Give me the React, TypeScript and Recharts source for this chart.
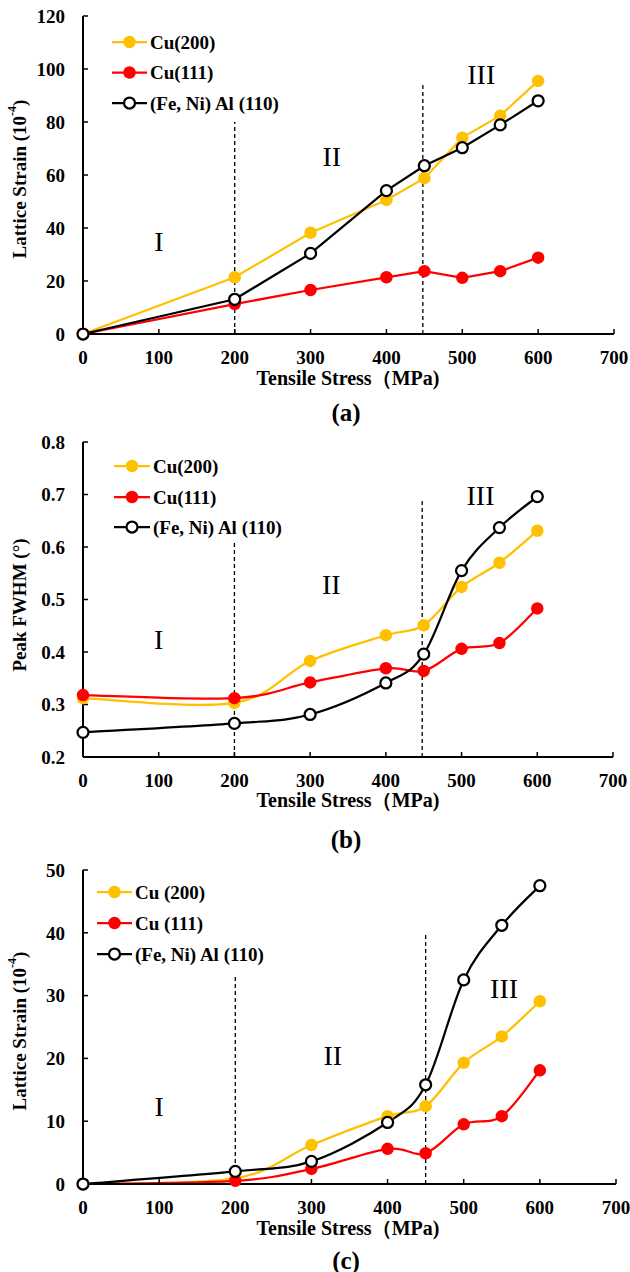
import React from 'react';
import { LineChart, Line, XAxis, YAxis, ReferenceLine, ReferenceDot, Legend } from 'recharts';

const FONT = "'Times New Roman', 'Liberation Serif', serif";

// Applied tensile stress (MPa) at each measurement
const STRESS = [0, 200, 300, 400, 450, 500, 550, 600];
const X_TICKS = [0, 100, 200, 300, 400, 500, 600, 700];

// (a) lattice strain, 10^-4
const A_CU200 = [0, 21.4, 38.2, 50.6, 58.8, 74.1, 82.4, 95.5];
const A_CU111 = [0, 11.3, 16.6, 21.4, 23.7, 21.2, 23.7, 28.8];
const A_FENIAL = [0, 13.1, 30.4, 54.1, 63.5, 70.3, 78.9, 88.0];
const A_Y_TICKS = [0, 20, 40, 60, 80, 100, 120];

// (b) peak FWHM, degrees
const B_CU200 = [0.312, 0.303, 0.383, 0.432, 0.451, 0.524, 0.57, 0.631];
const B_CU111 = [0.318, 0.312, 0.342, 0.369, 0.364, 0.406, 0.417, 0.483];
const B_FENIAL = [0.247, 0.264, 0.281, 0.341, 0.396, 0.555, 0.637, 0.696];
const B_Y_TICKS = [0.2, 0.3, 0.4, 0.5, 0.6, 0.7, 0.8];

// (c) lattice strain, 10^-4
const C_CU200 = [0, 0.9, 6.2, 10.8, 12.4, 19.3, 23.5, 29.1];
const C_CU111 = [0, 0.5, 2.4, 5.6, 4.9, 9.5, 10.8, 18.1];
const C_FENIAL = [0, 2.0, 3.6, 9.8, 15.8, 32.5, 41.2, 47.5];
const C_Y_TICKS = [0, 10, 20, 30, 40, 50];

const NAMES_AB = ['Cu(200)', 'Cu(111)', '(Fe, Ni) Al (110)'];
const NAMES_C = ['Cu (200)', 'Cu (111)', '(Fe, Ni) Al (110)'];

// Stage boundaries (dashed) and stage numerals
const A_DIVIDERS = [{ x: 200, top: 80 }, { x: 448, top: 95 }];
const B_DIVIDERS = [{ x: 200, top: 0.61 }, { x: 448, top: 0.69 }];
const C_DIVIDERS = [{ x: 200, top: 33 }, { x: 450, top: 40 }];
const A_STAGES = [{ t: 'I', x: 100, y: 35 }, { t: 'II', x: 328, y: 67 }, { t: 'III', x: 525, y: 98 }];
const B_STAGES = [{ t: 'I', x: 100, y: 0.423 }, { t: 'II', x: 328, y: 0.529 }, { t: 'III', x: 525, y: 0.699 }];
const C_STAGES = [{ t: 'I', x: 100, y: 12.3 }, { t: 'II', x: 328, y: 20.5 }, { t: 'III', x: 553, y: 31.2 }];

const SERIES = [
  { key: 'cu200', color: '#FFC000', fill: '#FFC000', open: false },
  { key: 'cu111', color: '#FF0000', fill: '#FF0000', open: false },
  { key: 'fenial', color: '#000000', fill: '#FFFFFF', open: true },
];

const buildRows = (a: number[], b: number[], c: number[]) =>
  STRESS.map((s, i) => ({ stress: s, cu200: a[i], cu111: b[i], fenial: c[i] }));

// Spreadsheet-style smoothed curve (Catmull-Rom through the points, as cubic Beziers)
const smoothCurve = (context: any) => {
  let pts: [number, number][] = [];
  return {
    areaStart() {},
    areaEnd() {},
    lineStart() {
      pts = [];
    },
    point(x: number, y: number) {
      pts.push([+x, +y]);
    },
    lineEnd() {
      const n = pts.length;
      if (!n) return;
      context.moveTo(pts[0][0], pts[0][1]);
      for (let i = 0; i < n - 1; i++) {
        const p0 = pts[Math.max(i - 1, 0)];
        const p1 = pts[i];
        const p2 = pts[i + 1];
        const p3 = pts[Math.min(i + 2, n - 1)];
        context.bezierCurveTo(
          p1[0] + (p2[0] - p0[0]) / 6,
          p1[1] + (p2[1] - p0[1]) / 6,
          p2[0] - (p3[0] - p1[0]) / 6,
          p2[1] - (p3[1] - p1[1]) / 6,
          p2[0],
          p2[1]
        );
      }
    },
  };
};

type LegendLayout = { x0: number; x1: number; mx: number; tx: number; rows: number[] };

const makeLegend = (names: string[], lay: LegendLayout) => () => (
  <svg width={400} height={140} style={{ display: 'block' }}>
    {SERIES.map((s, i) => (
      <g key={s.key}>
        <line x1={lay.x0} x2={lay.x1} y1={lay.rows[i]} y2={lay.rows[i]} stroke={s.color} strokeWidth={2.25} />
        <circle
          cx={lay.mx}
          cy={lay.rows[i]}
          r={5.5}
          fill={s.fill}
          stroke={s.color}
          strokeWidth={s.open ? 2.25 : 1.5}
        />
        <text
          x={lay.tx}
          y={lay.rows[i]}
          dominantBaseline="central"
          fontFamily={FONT}
          fontWeight="bold"
          fontSize={19}
          fill="#000"
        >
          {names[i]}
        </text>
      </g>
    ))}
  </svg>
);

type PanelProps = {
  top: number;
  height: number;
  margin: { top: number; right: number };
  xAxisHeight: number;
  rows: any[];
  names: string[];
  yDomain: [number, number];
  yTicks: number[];
  yFormat?: (v: number) => string;
  smooth: boolean;
  dividers: { x: number; top: number }[];
  stages: { t: string; x: number; y: number }[];
  legend: LegendLayout;
};

const Panel = (p: PanelProps) => (
  <div style={{ position: 'absolute', left: 0, top: p.top, width: 630, height: p.height }}>
    <LineChart
      width={630}
      height={p.height}
      data={p.rows}
      margin={{ top: p.margin.top, right: p.margin.right, left: 0, bottom: 0 }}
    >
      <XAxis
        dataKey="stress"
        type="number"
        domain={[0, 700]}
        ticks={X_TICKS}
        height={p.xAxisHeight}
        tickSize={-5}
        tickMargin={22}
        axisLine={{ stroke: '#000', strokeWidth: 2 }}
        tickLine={{ stroke: '#000', strokeWidth: 1.5 }}
        tick={{ fill: '#000', fontSize: 19, fontWeight: 'bold', fontFamily: FONT }}
        interval={0}
      />
      <XAxis
        xAxisId="top"
        orientation="top"
        type="number"
        domain={[0, 700]}
        height={0}
        tick={false}
        tickLine={false}
        axisLine={{ stroke: '#000', strokeWidth: 2 }}
      />
      <YAxis
        type="number"
        domain={p.yDomain}
        ticks={p.yTicks}
        width={83}
        tickSize={-5}
        tickMargin={23}
        tickFormatter={p.yFormat}
        axisLine={{ stroke: '#000', strokeWidth: 2 }}
        tickLine={{ stroke: '#000', strokeWidth: 1.5 }}
        tick={{ fill: '#000', fontSize: 19, fontWeight: 'bold', fontFamily: FONT }}
        interval={0}
      />
      <YAxis
        yAxisId="right"
        orientation="right"
        type="number"
        domain={[0, 1]}
        width={0}
        tick={false}
        tickLine={false}
        axisLine={{ stroke: '#000', strokeWidth: 2 }}
      />
      {p.dividers.map((d) => (
        <ReferenceLine
          key={d.x}
          segment={[
            { x: d.x, y: p.yDomain[0] },
            { x: d.x, y: d.top },
          ]}
          stroke="#000"
          strokeWidth={1.3}
          strokeDasharray="4 3"
        />
      ))}
      {p.stages.map((s) => (
        <ReferenceDot
          key={s.t}
          x={s.x}
          y={s.y}
          r={0}
          shape={(sp: any) => (
            <text
              x={sp.cx}
              y={sp.cy}
              textAnchor="middle"
              dominantBaseline="central"
              fontFamily={FONT}
              fontSize={28}
              fill="#000"
            >
              {s.t}
            </text>
          )}
        />
      ))}
      {SERIES.map((s, i) => (
        <Line
          key={s.key}
          dataKey={s.key}
          name={p.names[i]}
          type={p.smooth ? (smoothCurve as any) : 'linear'}
          stroke={s.color}
          strokeWidth={2.25}
          dot={{ r: 5.5, fill: s.fill, stroke: s.color, strokeWidth: s.open ? 2.25 : 1.5 }}
          activeDot={false}
          isAnimationActive={false}
        />
      ))}
      <Legend
        layout="vertical"
        align="center"
        verticalAlign="middle"
        wrapperStyle={{ left: 0, top: 0, width: 400, height: 140 }}
        content={makeLegend(p.names, p.legend)}
      />
    </LineChart>
  </div>
);

const titleStyle = { fontFamily: FONT, fontWeight: 'bold' as const, fill: '#000' };

const YTitle = ({ cy, children }: { cy: number; children: React.ReactNode }) => (
  <text
    x={19}
    y={cy}
    transform={`rotate(-90 19 ${cy})`}
    textAnchor="middle"
    dominantBaseline="central"
    fontSize={19}
    {...titleStyle}
  >
    {children}
  </text>
);

const XTitle = ({ cy }: { cy: number }) => (
  <text x={348} y={cy} textAnchor="middle" dominantBaseline="central" fontSize={20} {...titleStyle}>
    Tensile Stress（MPa)
  </text>
);

const Caption = ({ cy, label }: { cy: number; label: string }) => (
  <text x={346} y={cy} textAnchor="middle" dominantBaseline="central" fontSize={25} {...titleStyle}>
    {label}
  </text>
);

const StrainTitle = ({ cy }: { cy: number }) => (
  <YTitle cy={cy}>
    Lattice Strain (10
    <tspan dy={-7} fontSize={12}>
      -4
    </tspan>
    <tspan dy={7}>)</tspan>
  </YTitle>
);

export default function App() {
  return (
    <div style={{ position: 'absolute', left: 0, top: 0, width: 630, height: 1272, background: '#fff' }}>
      <Panel
        top={0}
        height={420}
        margin={{ top: 16, right: 16 }}
        xAxisHeight={86}
        rows={buildRows(A_CU200, A_CU111, A_FENIAL)}
        names={NAMES_AB}
        yDomain={[0, 120]}
        yTicks={A_Y_TICKS}
        smooth={false}
        dividers={A_DIVIDERS}
        stages={A_STAGES}
        legend={{ x0: 112, x1: 147, mx: 129.5, tx: 150, rows: [42, 72.5, 103] }}
      />
      <Panel
        top={420}
        height={420}
        margin={{ top: 22, right: 17 }}
        xAxisHeight={83}
        rows={buildRows(B_CU200, B_CU111, B_FENIAL)}
        names={NAMES_AB}
        yDomain={[0.2, 0.8]}
        yTicks={B_Y_TICKS}
        yFormat={(v: number) => v.toFixed(1)}
        smooth={true}
        dividers={B_DIVIDERS}
        stages={B_STAGES}
        legend={{ x0: 114, x1: 150, mx: 132, tx: 153, rows: [46, 77, 107] }}
      />
      <Panel
        top={840}
        height={432}
        margin={{ top: 30, right: 14 }}
        xAxisHeight={88}
        rows={buildRows(C_CU200, C_CU111, C_FENIAL)}
        names={NAMES_C}
        yDomain={[0, 50]}
        yTicks={C_Y_TICKS}
        smooth={true}
        dividers={C_DIVIDERS}
        stages={C_STAGES}
        legend={{ x0: 97, x1: 132, mx: 114.5, tx: 135, rows: [52, 83, 114] }}
      />
      <svg
        width={630}
        height={1272}
        style={{ position: 'absolute', left: 0, top: 0, pointerEvents: 'none' }}
      >
        <StrainTitle cy={179} />
        <XTitle cy={378} />
        <Caption cy={412} label="(a)" />
        <YTitle cy={605}>Peak FWHM (°)</YTitle>
        <XTitle cy={800} />
        <Caption cy={839} label="(b)" />
        <StrainTitle cy={1031} />
        <XTitle cy={1228} />
        <Caption cy={1260} label="(c)" />
      </svg>
    </div>
  );
}
